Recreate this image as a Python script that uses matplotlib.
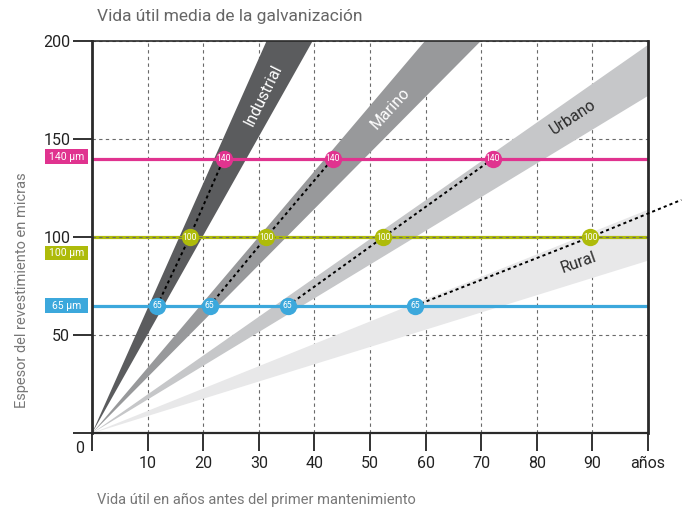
import math
import matplotlib
matplotlib.use('Agg')
import matplotlib.pyplot as plt
from matplotlib.patches import Rectangle

plt.rcParams['font.family'] = ['Roboto', 'DejaVu Sans']

# ---- data ----
environments = ["Industrial", "Marino", "Urbano", "Rural"]
rate_high = [6.37, 3.34, 1.98, 1.14]   # upper edge of band (µm per year)
rate_low = [5.04, 2.86, 1.72, 0.88]    # lower edge of band (µm per year)
thickness_levels = [65, 100, 140]
level_labels = ["65 µm", "100 µm", "140 µm"]
life_industrial = [11.7, 17.55, 23.7]
life_marino = [21.15, 31.35, 43.3]
life_urbano = [35.2, 52.4, 72.1]
life_rural = [58.1, 89.6]
rural_trend_end_x = 106
rural_trend_end_y = 119
x_ticks = [0, 10, 20, 30, 40, 50, 60, 70, 80, 90, 100]
x_tick_labels = ["", "10", "20", "30", "40", "50", "60", "70", "80", "90", "años"]
y_ticks = [0, 50, 100, 150, 200]
y_tick_labels = ["", "50", "100", "150", "200"]

# ---- styles ----
band_colors = ["#5b5c5e", "#98999b", "#c6c7c9", "#e8e8e9"]
band_text_colors = ["white", "white", "#2a2a2a", "#2a2a2a"]
band_label_pos = [(30.8, 172.4), (53.7, 165.8), (86.6, 161.2), (87.5, 86.8)]
level_colors = ["#3ca8dc", "#aebb0a", "#e0338f"]
level_label_y = [65.1, 91.9, 141.0]

fig = plt.figure(figsize=(6.86, 5.11), dpi=100)
ax = fig.add_axes([92 / 686, 77.7 / 511, 556 / 686, 392.3 / 511])
ax.set_xlim(0, 100)
ax.set_ylim(0, 200)

ax.set_axisbelow(True)
ax.grid(True, color='#6a6a6a', ls=(0, (3, 3)), lw=0.8)

# bands
for i, env in enumerate(environments):
    ax.fill([0, 100, 100], [0, rate_high[i] * 100, rate_low[i] * 100],
            color=band_colors[i], lw=0, zorder=1)

# horizontal level lines
for lvl, c in zip(thickness_levels, level_colors):
    ax.axhline(lvl, color=c, lw=2.3, zorder=2)
ax.axhline(100, color='#6a6a6a', ls=(0, (3, 3)), lw=0.8, zorder=2.5)

# dotted trend lines
lives = [life_industrial, life_marino, life_urbano]
for life in lives:
    ax.plot(life, thickness_levels[:len(life)], color='black',
            ls=(0, (1.6, 1.6)), lw=1.4, zorder=3)
ax.plot(life_rural + [rural_trend_end_x],
        thickness_levels[:len(life_rural)] + [rural_trend_end_y],
        color='black', ls=(0, (1.6, 1.6)), lw=1.4, zorder=3, clip_on=False)

# circles
for life in lives + [life_rural]:
    for x, lvl in zip(life, thickness_levels):
        c = level_colors[thickness_levels.index(lvl)]
        ax.plot([x], [lvl], 'o', ms=12.5, color=c, mec='none', zorder=4)
        ax.text(x, lvl, str(lvl), ha='center', va='center', color='white',
                fontsize=6.2, zorder=5)

# band labels
p0 = ax.transData.transform((0, 0))
for i, env in enumerate(environments):
    mid = (rate_high[i] + rate_low[i]) / 2
    p1 = ax.transData.transform((10, 10 * mid))
    ang = math.degrees(math.atan2(p1[1] - p0[1], p1[0] - p0[0]))
    x, y = band_label_pos[i]
    ax.text(x, y, env, rotation=ang, rotation_mode='anchor', ha='center',
            va='center', color=band_text_colors[i], fontsize=11.5,
            zorder=6)

# left level labels
for lbl, ly, c in zip(level_labels, level_label_y, level_colors):
    ax.add_patch(Rectangle((-8.5, ly - 3.8), 7.85, 7.6, color=c, lw=0,
                           clip_on=False, zorder=5))
    ax.text(-4.57, ly, lbl, ha='center', va='center', color='white',
            fontsize=7.5, clip_on=False, zorder=6)

# axes styling
ax.set_xticks(x_ticks)
ax.set_xticklabels(x_tick_labels)
ax.set_yticks(y_ticks)
ax.set_yticklabels(y_tick_labels)
ax.tick_params(axis='x', length=13, width=1.3, pad=3, labelsize=11.5,
               color='#222222', labelcolor='#222222')
ax.tick_params(axis='y', length=13.7, width=1.3, pad=2, labelsize=11.5,
               color='#222222', labelcolor='#222222')
for s, lw in [('left', 2.0), ('right', 2.0), ('bottom', 1.6), ('top', 1.2)]:
    ax.spines[s].set_linewidth(lw)
    ax.spines[s].set_color('#2a2a2a')
ax.text(-2.3, -8, "0", ha='center', va='center', fontsize=11.5,
        color='#222222', clip_on=False)

fig.text(97 / 686, 1 - 17 / 511, "Vida útil media de la galvanización",
         ha='left', va='center', fontsize=12.5, color='#666666')
fig.text(97 / 686, 1 - 500 / 511,
         "Vida útil en años antes del primer mantenimiento",
         ha='left', va='center', fontsize=10.5, color='#777777')
fig.text(22 / 686, 1 - 290 / 511, "Espesor del revestimiento en micras",
         ha='center', va='center', rotation=90, fontsize=10.5,
         color='#777777')

fig.savefig('out.png', dpi=100)
